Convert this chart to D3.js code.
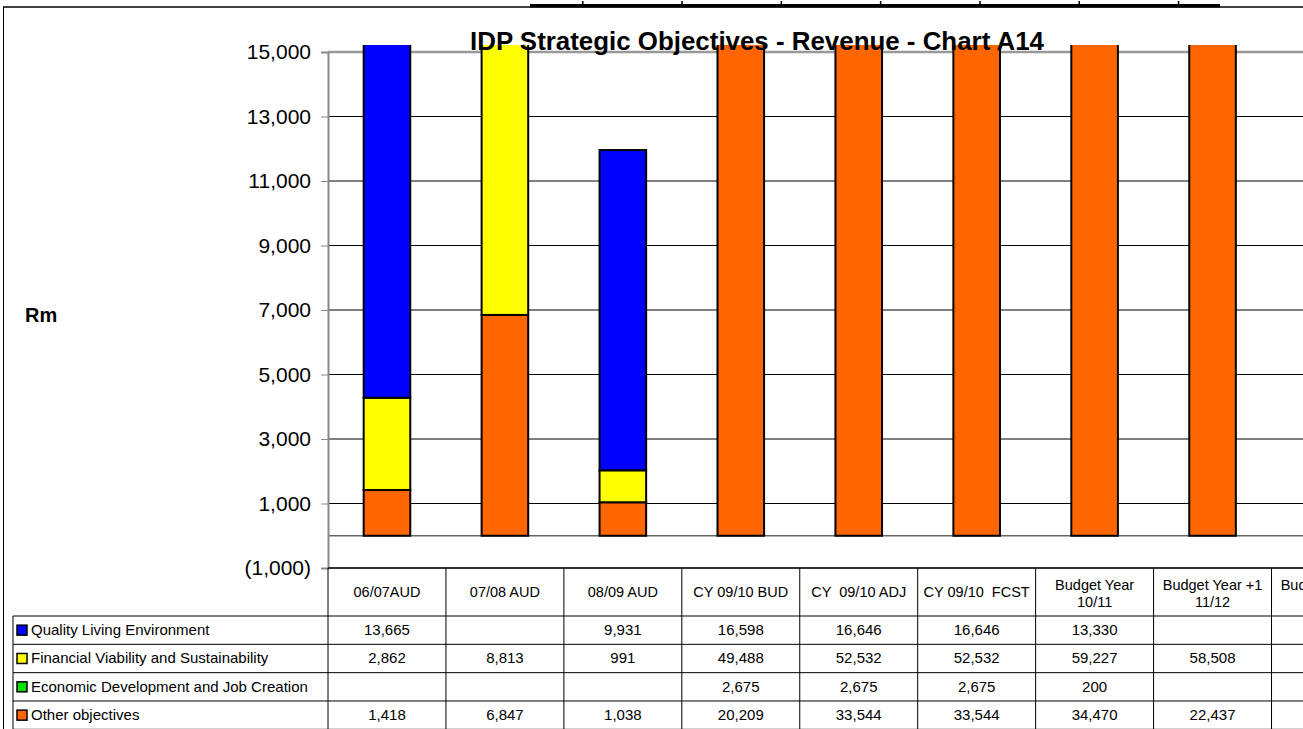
<html>
<head>
<style>
  body { margin: 0; background: #fff; }
  text { font-family: "Liberation Sans", Arial, sans-serif; }
</style>
</head>
<body>
<svg id="chart" width="1303" height="729"></svg>
<script src="https://cdnjs.cloudflare.com/ajax/libs/d3/7.8.5/d3.min.js"></script>
<script>
  // chart data
  var categories = ["06/07AUD", "07/08 AUD", "08/09 AUD", "CY 09/10 BUD", "CY  09/10 ADJ", "CY 09/10  FCST",
                    "Budget Year\n10/11", "Budget Year +1\n11/12", "Budget Year +2\n12/13"];
  var quality   = [13665, null, 9931, 16598, 16646, 16646, 13330, null, null];
  var financial = [2862, 8813, 991, 49488, 52532, 52532, 59227, 58508, null];
  var economic  = [null, null, null, 2675, 2675, 2675, 200, null, null];
  var other     = [1418, 6847, 1038, 20209, 33544, 33544, 34470, 22437, null];
  var yTicks = [-1000, 1000, 3000, 5000, 7000, 9000, 11000, 13000, 15000];

  var series = [
    {key: "quality",   name: "Quality Living Environment",           color: "#0000ff", values: quality},
    {key: "financial", name: "Financial Viability and Sustainability", color: "#ffff00", values: financial},
    {key: "economic",  name: "Economic Development and Job Creation",  color: "#00e000", values: economic},
    {key: "other",     name: "Other objectives",                     color: "#ff6600", values: other}
  ];

  var svg = d3.select("#chart");
  var W = 1303;
  var plotLeft = 328, plotTop = 52, plotBottom = 568;
  var step = 117.94;
  var rowTop = 616, rowH = 28.33, tableLeft = 13;

  var x = d3.scaleBand().domain(categories).range([plotLeft, plotLeft + step * categories.length]);
  var y = d3.scaleLinear().domain([-1000, 15000]).range([plotBottom, plotTop]);

  // frame bits at the top
  svg.append("line").attr("x1", 3).attr("x2", W).attr("y1", 7).attr("y2", 7).attr("stroke", "#000").attr("stroke-width", 1.5);
  svg.append("line").attr("x1", 3.5).attr("x2", 3.5).attr("y1", 7).attr("y2", 729).attr("stroke", "#000").attr("stroke-width", 1);
  svg.append("rect").attr("x", 530).attr("y", 4).attr("width", 690).attr("height", 3.5).attr("fill", "#000");
  d3.range(582, 1200, 99.3).forEach(function (mx) {
    svg.append("rect").attr("x", mx).attr("y", 1).attr("width", 1.5).attr("height", 3).attr("fill", "#000");
  });

  // gridlines
  svg.append("g").selectAll("line").data(yTicks.filter(function (d) { return d > -1000; }))
    .enter().append("line")
    .attr("x1", plotLeft).attr("x2", W)
    .attr("y1", function (d) { return y(d); }).attr("y2", function (d) { return y(d); })
    .attr("stroke", function (d) { return d === 15000 ? "#999" : "#000"; })
    .attr("stroke-width", function (d) { return d === 15000 ? 2.5 : 1; });
  svg.append("line").attr("x1", plotLeft).attr("x2", W).attr("y1", y(0)).attr("y2", y(0))
    .attr("stroke", "#666").attr("stroke-width", 1.5);

  // y axis
  var fmt = d3.format(",");
  var yAxis = d3.axisLeft(y).tickValues(yTicks).tickSize(7).tickPadding(10)
    .tickFormat(function (d) { return d < 0 ? "(" + fmt(-d) + ")" : fmt(d); });
  var ga = svg.append("g").attr("transform", "translate(" + plotLeft + ",0)").call(yAxis);
  ga.select(".domain").attr("stroke", "#888").attr("stroke-width", 2);
  ga.selectAll(".tick line").attr("stroke", "#888");
  ga.selectAll(".tick text").attr("font-size", 21).attr("fill", "#000")
    .attr("font-family", "'Liberation Sans', Arial, sans-serif");

  svg.append("text").attr("x", 25).attr("y", 322).attr("font-size", 20).attr("font-weight", "bold").text("Rm");

  // bars
  svg.append("clipPath").attr("id", "plotClip").append("rect")
    .attr("x", plotLeft).attr("y", 45).attr("width", W - plotLeft).attr("height", plotBottom - 45);

  var rows = categories.map(function (c, i) {
    var r = {cat: c};
    series.forEach(function (s) { r[s.key] = s.values[i] || 0; });
    return r;
  });
  var stackOrder = ["other", "economic", "financial", "quality"];
  var stacked = d3.stack().keys(stackOrder)(rows);
  var colorOf = {};
  series.forEach(function (s) { colorOf[s.key] = s.color; });
  var barW = step * 0.395;

  var gb = svg.append("g").attr("clip-path", "url(#plotClip)");
  stacked.forEach(function (layer) {
    gb.selectAll(null).data(layer.filter(function (d) { return d[1] > d[0]; }))
      .enter().append("rect")
      .attr("x", function (d) { return x(d.data.cat) + (step - barW) / 2; })
      .attr("width", barW)
      .attr("y", function (d) { return y(d[1]); })
      .attr("height", function (d) { return y(d[0]) - y(d[1]); })
      .attr("fill", colorOf[layer.key])
      .attr("stroke", "#000").attr("stroke-width", 2);
  });

  // title
  svg.append("text").attr("x", 757).attr("y", 50).attr("text-anchor", "middle")
    .attr("font-size", 26).attr("font-weight", "bold")
    .attr("textLength", 574).attr("lengthAdjust", "spacingAndGlyphs")
    .text("IDP Strategic Objectives - Revenue - Chart A14");

  // data table
  var gt = svg.append("g");
  var tableBottom = rowTop + rowH * series.length;
  gt.append("line").attr("x1", plotLeft).attr("x2", W).attr("y1", plotBottom).attr("y2", plotBottom)
    .attr("stroke", "#333").attr("stroke-width", 2);
  categories.forEach(function (c, i) {
    var cx = x(c);
    gt.append("line").attr("x1", cx).attr("x2", cx).attr("y1", plotBottom).attr("y2", tableBottom)
      .attr("stroke", "#000").attr("stroke-width", 1);
    var lines = c.split("\n");
    var t = gt.append("text").attr("x", cx + step / 2).attr("text-anchor", "middle")
      .attr("font-size", 14.5).attr("xml:space", "preserve").style("white-space", "pre");
    lines.forEach(function (ln, k) {
      t.append("tspan").attr("x", cx + step / 2)
        .attr("y", lines.length === 1 ? 597 : 590 + k * 17).text(ln);
    });
  });
  gt.append("line").attr("x1", tableLeft).attr("x2", tableLeft).attr("y1", rowTop).attr("y2", tableBottom)
    .attr("stroke", "#000").attr("stroke-width", 1);
  series.forEach(function (s, r) {
    var ry = rowTop + r * rowH;
    gt.append("line").attr("x1", tableLeft).attr("x2", W).attr("y1", ry).attr("y2", ry)
      .attr("stroke", "#000").attr("stroke-width", 1);
    gt.append("rect").attr("x", 17).attr("y", ry + rowH / 2 - 5).attr("width", 10).attr("height", 10)
      .attr("fill", s.color).attr("stroke", "#000").attr("stroke-width", 1.5);
    gt.append("text").attr("x", 31).attr("y", ry + rowH / 2 + 5).attr("font-size", 15).text(s.name);
    s.values.forEach(function (v, i) {
      if (v == null) return;
      gt.append("text").attr("x", x(categories[i]) + step / 2).attr("y", ry + rowH / 2 + 5)
        .attr("text-anchor", "middle").attr("font-size", 15).text(fmt(v));
    });
  });
  gt.append("line").attr("x1", tableLeft).attr("x2", W).attr("y1", tableBottom).attr("y2", tableBottom)
    .attr("stroke", "#000").attr("stroke-width", 1);
</script>
</body>
</html>
